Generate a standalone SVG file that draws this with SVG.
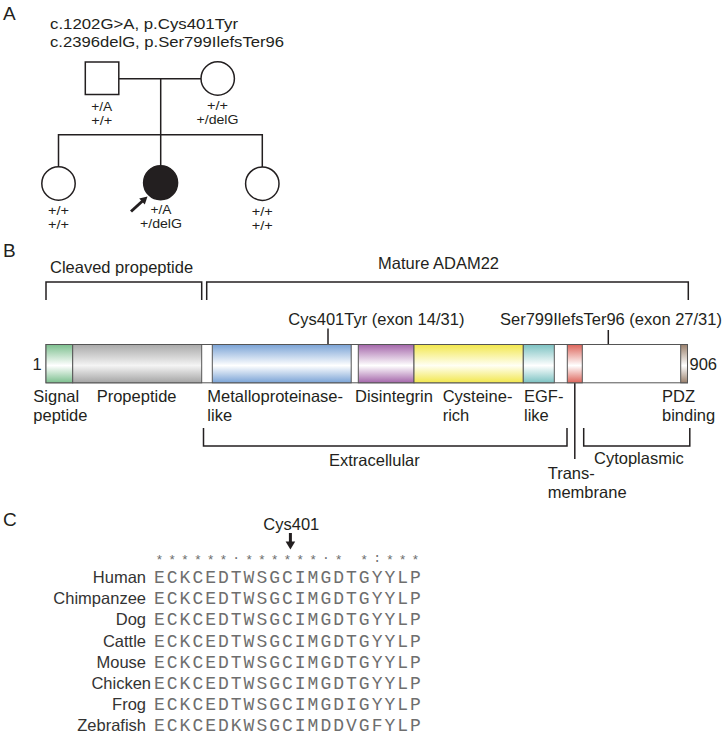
<svg xmlns="http://www.w3.org/2000/svg" width="725" height="737" viewBox="0 0 725 737">
<defs>
<style>
text{font-family:"Liberation Sans",Arial,sans-serif;fill:#231f20}
.pl{font-size:19px}
.t{font-size:16.5px}
.g{font-size:12.5px;text-anchor:middle}
.ln{stroke:#231f20;stroke-width:1.5;fill:none}
.ind{stroke:#231f20;stroke-width:1.5;fill:#fff}
.seg{stroke:#555;stroke-width:1}
.seq{font-family:"Liberation Mono","Courier New",monospace;font-size:18px;letter-spacing:2px;fill:#6e6e6e}
.sym{font-family:"Liberation Mono","Courier New",monospace;font-size:13px;letter-spacing:5px;fill:#6e6e6e}
.sp{font-size:16.5px;text-anchor:end;fill:#333}
.ah{fill:#231f20}
</style>
<linearGradient id="gGreen" x1="0" y1="0" x2="0" y2="1"><stop offset="0" stop-color="#7cbf8e"/><stop offset="0.55" stop-color="#fff"/><stop offset="1" stop-color="#7cbf8e"/></linearGradient>
<linearGradient id="gGray" x1="0" y1="0" x2="0" y2="1"><stop offset="0" stop-color="#a9a9a9"/><stop offset="0.55" stop-color="#f4f4f4"/><stop offset="1" stop-color="#a4a4a4"/></linearGradient>
<linearGradient id="gBlue" x1="0" y1="0" x2="0" y2="1"><stop offset="0" stop-color="#7aa3d6"/><stop offset="0.55" stop-color="#fff"/><stop offset="1" stop-color="#7aa3d6"/></linearGradient>
<linearGradient id="gPurple" x1="0" y1="0" x2="0" y2="1"><stop offset="0" stop-color="#a466aa"/><stop offset="0.55" stop-color="#fff"/><stop offset="1" stop-color="#a466aa"/></linearGradient>
<linearGradient id="gYellow" x1="0" y1="0" x2="0" y2="1"><stop offset="0" stop-color="#f2e74c"/><stop offset="0.55" stop-color="#fffff4"/><stop offset="1" stop-color="#f2e74c"/></linearGradient>
<linearGradient id="gTeal" x1="0" y1="0" x2="0" y2="1"><stop offset="0" stop-color="#7cc2c2"/><stop offset="0.55" stop-color="#fff"/><stop offset="1" stop-color="#7cc2c2"/></linearGradient>
<linearGradient id="gRed" x1="0" y1="0" x2="0" y2="1"><stop offset="0" stop-color="#dd655b"/><stop offset="0.55" stop-color="#fff"/><stop offset="1" stop-color="#dd655b"/></linearGradient>
<linearGradient id="gBrown" x1="0" y1="0" x2="0" y2="1"><stop offset="0" stop-color="#9a806c"/><stop offset="0.55" stop-color="#fff"/><stop offset="1" stop-color="#9a806c"/></linearGradient>
</defs>
<rect width="725" height="737" fill="#fff"/>

<!-- Panel A -->
<g id="panelA-label">
<text class="pl" x="3" y="20">A</text>
<text x="50" y="28.5" font-size="15.5" textLength="188" lengthAdjust="spacingAndGlyphs">c.1202G&gt;A, p.Cys401Tyr</text>
<text x="50" y="46.5" font-size="15.5" textLength="234" lengthAdjust="spacingAndGlyphs">c.2396delG, p.Ser799IlefsTer96</text>
</g>
<g id="connectors">
<path class="ln" d="M118.8 78.7H201M160.7 78.7V165.8M58.5 134.7H262.3M58.5 134V166.8M262.3 134V167"/>
</g>
<g id="father">
<rect class="ind" x="85.3" y="62" width="33.5" height="32.5"/>
<text class="g" x="101.7" y="111" textLength="21" lengthAdjust="spacingAndGlyphs">+/A</text>
<text class="g" x="101.7" y="125" textLength="21" lengthAdjust="spacingAndGlyphs">+/+</text>
</g>
<g id="mother">
<circle class="ind" cx="217.7" cy="78.5" r="16.7"/>
<text class="g" x="217.5" y="110" textLength="21" lengthAdjust="spacingAndGlyphs">+/+</text>
<text class="g" x="217.5" y="124" textLength="42" lengthAdjust="spacingAndGlyphs">+/delG</text>
</g>
<g id="sibling1">
<circle class="ind" cx="58.5" cy="183.5" r="16.7"/>
<text class="g" x="58.5" y="215" textLength="21" lengthAdjust="spacingAndGlyphs">+/+</text>
<text class="g" x="58.5" y="229" textLength="21" lengthAdjust="spacingAndGlyphs">+/+</text>
</g>
<g id="proband">
<circle class="ind" cx="160.6" cy="182.8" r="17" style="fill:#231f20"/>
<text class="g" x="161" y="214" textLength="21" lengthAdjust="spacingAndGlyphs">+/A</text>
<text class="g" x="161" y="228" textLength="42" lengthAdjust="spacingAndGlyphs">+/delG</text>
<path d="M131 211.5L142.5 201" stroke="#231f20" stroke-width="3" fill="none"/>
<polygon class="ah" points="147.5,196.5 144.8,204.6 139.2,198.4"/>
</g>
<g id="sibling3">
<circle class="ind" cx="262.3" cy="183.7" r="16.7"/>
<text class="g" x="262.3" y="216" textLength="21" lengthAdjust="spacingAndGlyphs">+/+</text>
<text class="g" x="262.3" y="230" textLength="21" lengthAdjust="spacingAndGlyphs">+/+</text>
</g>

<!-- Panel B -->
<g id="panelB-label"><text class="pl" x="3" y="257">B</text></g>
<g id="brackets">
<text class="t" x="50" y="273">Cleaved propeptide</text>
<path class="ln" d="M46 300V282H201.7V300"/>
<text class="t" x="378" y="269">Mature ADAM22</text>
<path class="ln" d="M206.7 300V282H688.3V300"/>
<path class="ln" d="M203.5 428V446H567V428"/>
<text class="t" x="329" y="466">Extracellular</text>
<path class="ln" d="M583.7 428V446H689.8V428"/>
<text class="t" x="594" y="464">Cytoplasmic</text>
<path class="ln" d="M574.8 383V459"/>
<text class="t"><tspan x="547.7" y="479">Trans-</tspan><tspan x="547.7" y="498">membrane</tspan></text>
</g>
<g id="mutations">
<text class="t" x="288.3" y="325">Cys401Tyr (exon 14/31)</text>
<path class="ln" d="M328 328.5V344.5"/>
<text class="t" x="500" y="325">Ser799IlefsTer96 (exon 27/31)</text>
<path class="ln" d="M608.3 330V344.5"/>
</g>
<g id="protein">
<text class="t" x="32.5" y="369.5">1</text>
<text class="t" x="689.5" y="369.5">906</text>
<rect x="46" y="344.5" width="641.5" height="38.3" fill="#fff" stroke="#555" stroke-width="1"/>
<g id="signal-peptide"><rect class="seg" x="46" y="344.5" width="26.7" height="38.3" fill="url(#gGreen)"/>
<text class="t"><tspan x="33.3" y="401.5">Signal</tspan><tspan x="33.3" y="421">peptide</tspan></text></g>
<g id="propeptide"><rect class="seg" x="72.7" y="344.5" width="129" height="38.3" fill="url(#gGray)"/>
<text class="t" x="96.7" y="401.5">Propeptide</text></g>
<g id="metalloproteinase"><rect class="seg" x="212.3" y="344.5" width="138.9" height="38.3" fill="url(#gBlue)"/>
<text class="t"><tspan x="207.3" y="401.5">Metalloproteinase-</tspan><tspan x="207.3" y="421">like</tspan></text></g>
<g id="disintegrin"><rect class="seg" x="358.3" y="344.5" width="55.7" height="38.3" fill="url(#gPurple)"/>
<text class="t" x="355" y="401.5">Disintegrin</text></g>
<g id="cysteine-rich"><rect class="seg" x="414" y="344.5" width="109.3" height="38.3" fill="url(#gYellow)"/>
<text class="t"><tspan x="442.7" y="401.5">Cysteine-</tspan><tspan x="442.7" y="421">rich</tspan></text></g>
<g id="egf-like"><rect class="seg" x="523.3" y="344.5" width="31" height="38.3" fill="url(#gTeal)"/>
<text class="t"><tspan x="524" y="401.5">EGF-</tspan><tspan x="524" y="421">like</tspan></text></g>
<g id="transmembrane"><rect class="seg" x="567.3" y="344.5" width="15" height="38.3" fill="url(#gRed)"/></g>
<g id="pdz-binding"><rect class="seg" x="680.7" y="344.5" width="6.8" height="38.3" fill="url(#gBrown)"/>
<text class="t"><tspan x="662" y="401.5">PDZ</tspan><tspan x="662" y="421">binding</tspan></text></g>
</g>

<!-- Panel C -->
<g id="panelC-label"><text class="pl" x="3" y="526">C</text></g>
<g id="cys401-marker">
<text class="t" x="263.3" y="530">Cys401</text>
<path d="M290.4 533V542.5" stroke="#231f20" stroke-width="3"/>
<polygon class="ah" points="285.6,541.5 295.2,541.5 290.4,549.5"/>
</g>
<g id="species">
<text class="sp" x="146" y="583">Human</text>
<text class="sp" x="146" y="604.2">Chimpanzee</text>
<text class="sp" x="146" y="625.4">Dog</text>
<text class="sp" x="146" y="646.6">Cattle</text>
<text class="sp" x="146" y="667.8">Mouse</text>
<text class="sp" x="151" y="689">Chicken</text>
<text class="sp" x="146" y="710.2">Frog</text>
<text class="sp" x="146" y="731.4">Zebrafish</text>
</g>
<g id="alignment">
<text class="sym" x="155.5" y="564" xml:space="preserve">******<tspan dy="-2">·</tspan><tspan dy="2">******</tspan><tspan dy="-2">·</tspan><tspan dy="2">* *</tspan><tspan dy="-2">:</tspan><tspan dy="2">***</tspan></text>
<text class="seq"><tspan x="154" y="583">ECKCEDTWSGCIMGDTGYYLP</tspan><tspan x="154" y="604.2">ECKCEDTWSGCIMGDTGYYLP</tspan><tspan x="154" y="625.4">ECKCEDTWSGCIMGDTGYYLP</tspan><tspan x="154" y="646.6">ECKCEDTWSGCIMGDTGYYLP</tspan><tspan x="154" y="667.8">ECKCEDTWSGCIMGDTGYYLP</tspan><tspan x="154" y="689">ECKCEDTWSGCIMGDTGYYLP</tspan><tspan x="154" y="710.2">ECKCEDTWSGCIMGDIGYYLP</tspan><tspan x="154" y="731.4">ECKCEDKWSGCIMDDVGFYLP</tspan></text>
</g>
</svg>
